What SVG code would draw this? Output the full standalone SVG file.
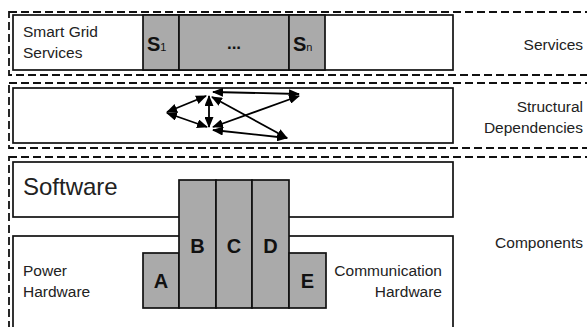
<svg xmlns="http://www.w3.org/2000/svg" width="587" height="327" viewBox="0 0 587 327">
<defs>
<style>
.dash{fill:none;stroke:#111;stroke-width:1.8;stroke-dasharray:8,4}
.box{fill:#fff;stroke:#111;stroke-width:1.7}
.g{fill:#aaaaaa;stroke:#111;stroke-width:1.7}
.t{font-family:"Liberation Sans",Arial,sans-serif;fill:#222;font-size:15.5px}
.b{font-family:"Liberation Sans",Arial,sans-serif;font-weight:bold;fill:#111;font-size:20px}
.c{stroke:#000;stroke-width:1.8;fill:none;marker-start:url(#ah);marker-end:url(#ah)}
</style>
<marker id="ah" viewBox="0 0 11 9" refX="10" refY="4.5" markerWidth="11" markerHeight="9" markerUnits="userSpaceOnUse" orient="auto-start-reverse">
<path d="M0,0 L11,4.5 L0,9 z" fill="#000"/>
</marker>
</defs>
<rect width="587" height="327" fill="#fff"/>
<g id="layer-services">
<rect class="dash" x="9" y="12" width="600" height="63"/>
<text class="t" x="583" y="50" text-anchor="end">Services</text>
</g>
<g id="layer-structural">
<rect class="dash" x="9" y="83" width="600" height="65"/>
<text class="t" x="583" y="112" text-anchor="end">Structural</text>
<text class="t" x="583" y="133" text-anchor="end">Dependencies</text>
</g>
<g id="layer-components">
<rect class="dash" x="9" y="157" width="600" height="200"/>
<text class="t" x="583" y="248" text-anchor="end">Components</text>
</g>
<g id="services-bar">
<rect class="box" x="13" y="15" width="440" height="55"/>
<text class="t" x="23" y="37">Smart Grid</text>
<text class="t" x="23" y="58">Services</text>
</g>
<g id="s1">
<rect class="g" x="143" y="15" width="36" height="55"/>
<text class="b" x="147" y="51">S<tspan font-size="11" font-weight="normal">1</tspan></text>
</g>
<g id="sdots">
<rect class="g" x="179" y="15" width="110" height="55"/>
<text class="b" x="234" y="49" style="font-size:17px" text-anchor="middle">...</text>
</g>
<g id="sn">
<rect class="g" x="289" y="15" width="36" height="55"/>
<text class="b" x="293" y="51">S<tspan font-size="11" font-weight="normal">n</tspan></text>
</g>
<g id="dependencies">
<rect class="box" x="13" y="88" width="440" height="55"/>
</g>
<g id="connectors">
<line class="c" x1="167" y1="112" x2="206" y2="96"/>
<line class="c" x1="167" y1="113" x2="207" y2="127"/>
<line class="c" x1="209" y1="96" x2="209" y2="127"/>
<line class="c" x1="213" y1="92" x2="299" y2="94"/>
<line class="c" x1="213" y1="127" x2="299" y2="96"/>
<line class="c" x1="212" y1="97" x2="287" y2="138"/>
<line class="c" x1="213" y1="130" x2="287" y2="138"/>
<line x1="234" y1="308" x2="234" y2="330" stroke="#000" stroke-width="1.7"/>
</g>
<g id="software">
<rect class="box" x="13" y="162" width="440" height="55"/>
<text class="t" x="23" y="195" style="font-size:24px">Software</text>
</g>
<g id="hardware">
<rect class="box" x="13" y="236" width="440" height="100"/>
<text class="t" x="23" y="276">Power</text>
<text class="t" x="23" y="297">Hardware</text>
<text class="t" x="442" y="276" text-anchor="end">Communication</text>
<text class="t" x="442" y="297" text-anchor="end">Hardware</text>
</g>
<g id="A">
<rect class="g" x="143" y="253" width="36" height="55"/>
<text class="b" x="161" y="288" text-anchor="middle">A</text>
</g>
<g id="B">
<rect class="g" x="179" y="180" width="37" height="128"/>
<text class="b" x="197.5" y="253" text-anchor="middle">B</text>
</g>
<g id="C">
<rect class="g" x="216" y="180" width="36" height="128"/>
<text class="b" x="234" y="253" text-anchor="middle">C</text>
</g>
<g id="D">
<rect class="g" x="252" y="180" width="37" height="128"/>
<text class="b" x="270.5" y="253" text-anchor="middle">D</text>
</g>
<g id="E">
<rect class="g" x="289" y="253" width="37" height="55"/>
<text class="b" x="307.5" y="288" text-anchor="middle">E</text>
</g>
</svg>
